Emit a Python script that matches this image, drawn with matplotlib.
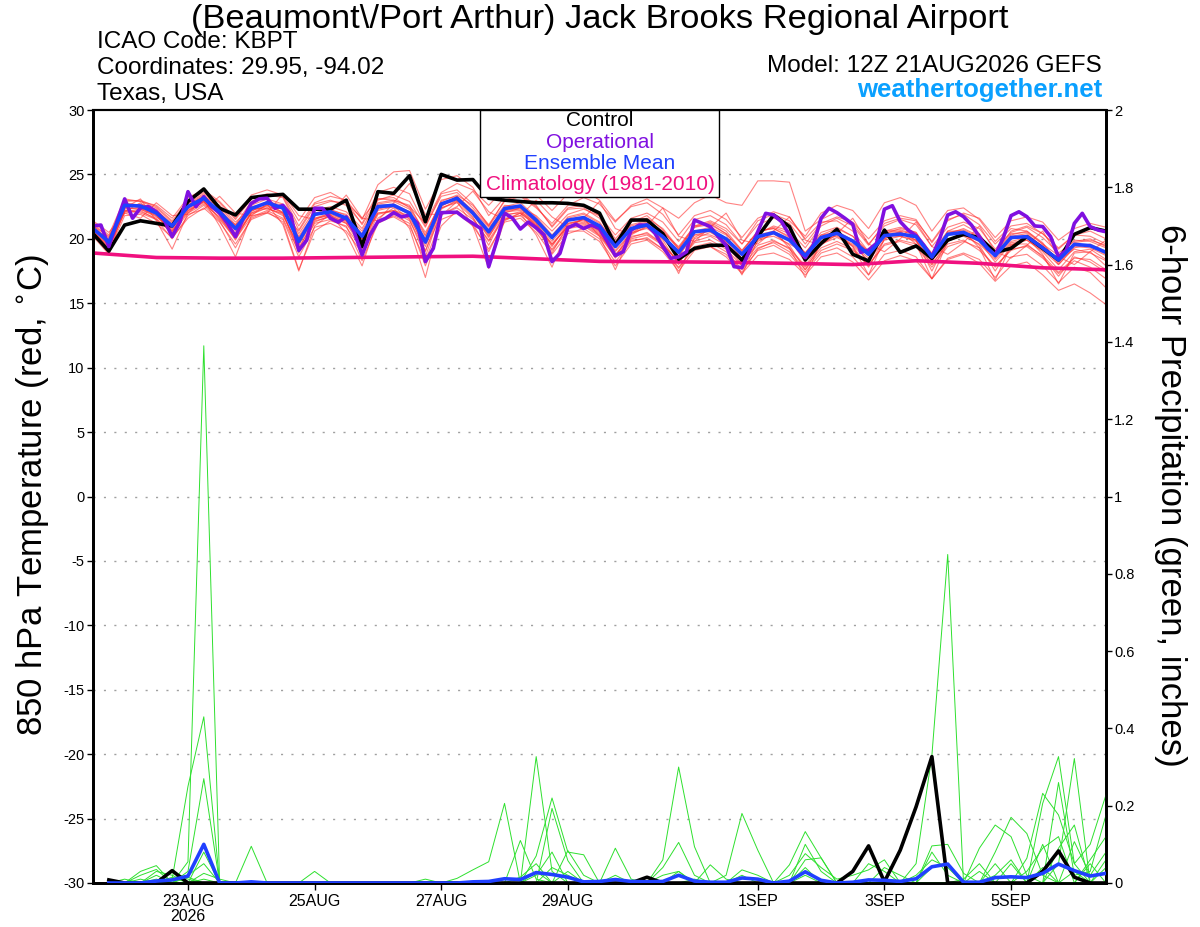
import numpy as np
import matplotlib
matplotlib.use('Agg')
import matplotlib.pyplot as plt
from matplotlib.patches import Rectangle
from matplotlib.ticker import FuncFormatter

plt.rcParams['font.family'] = ['Liberation Sans', 'DejaVu Sans']
plt.rcParams['axes.unicode_minus'] = False

# forecast hours from 12Z 21AUG2026 (6-hourly ensemble, 3-hourly operational)
hours6 = np.arange(65) * 6
hours3 = np.arange(129) * 3

tick_hours = [36, 84, 132, 180, 252, 300, 348]
tick_labels = ['23AUG\n2026', '25AUG', '27AUG', '29AUG', '1SEP', '3SEP', '5SEP']

# 850 hPa temperature (C)
t_mean = [20.8, 19.75, 22.6, 22.55, 22.0, 21.0, 22.5, 23.15, 22.1, 20.8, 22.35, 22.8, 22.4, 19.8, 21.9, 22.1,
          21.6, 20.2, 22.5, 22.6, 22.0, 19.75, 22.7, 23.15, 22.0, 20.55, 22.35, 22.55, 21.45, 20.1, 21.45, 21.65,
          21.0, 19.4, 20.8, 21.07, 20.17, 18.95, 20.55, 20.68, 19.99, 18.8, 20.17, 20.48, 19.9, 18.7, 20.1, 20.43,
          19.83, 18.8, 20.25, 20.37, 20.17, 18.6, 20.35, 20.5, 19.9, 18.7, 20.1, 20.17, 19.3, 18.36, 19.57, 19.47,
          18.95]

t_ctrl = [20.4, 19.05, 21.07, 21.4, 21.2, 21.0, 22.9, 23.87, 22.37, 21.85, 23.2, 23.35, 23.45, 22.3, 22.3, 22.3,
          23.0, 19.4, 23.66, 23.53, 24.9, 21.33, 25.0, 24.56, 24.6, 23.15, 23.0, 22.9, 22.8, 22.8, 22.75, 22.6,
          22.0, 19.5, 21.46, 21.46, 20.4, 18.43, 19.26, 19.5, 19.5, 18.36, 20.17, 21.85, 20.95, 18.36, 19.65, 20.74,
          18.8, 18.28, 20.68, 18.95, 19.45, 18.49, 19.9, 20.35, 20.1, 18.95, 19.26, 20.17, 19.26, 18.36, 20.35, 20.87,
          20.6]

t_oper = [21.0, 21.07, 19.4, 21.3, 23.1, 21.6, 22.4, 22.5, 22.1, 21.46, 20.17, 21.33, 23.66, 22.5, 23.27, 22.5,
          22.0, 21.2, 20.17, 21.6, 22.75, 23.1, 23.15, 22.37, 22.6, 21.85, 19.1, 19.9, 22.37, 22.37, 21.6, 21.3,
          21.7, 20.55, 18.75, 20.3, 21.33, 21.6, 22.03, 21.7, 21.85, 21.2, 18.23, 19.26, 22.03, 22.06, 22.06, 21.6,
          21.2, 20.8, 17.84, 19.78, 22.0, 21.6, 20.76, 21.3, 20.86, 20.3, 18.23, 18.87, 20.86, 21.13, 20.8, 21.07,
          20.8, 19.78, 18.7, 19.0, 20.68, 21.07, 21.07, 20.43, 19.4, 18.49, 18.6, 19.0, 21.46, 21.2, 20.95, 20.17,
          19.5, 17.84, 17.76, 19.13, 20.55, 21.98, 21.85, 21.33, 20.3, 19.26, 18.54, 19.5, 21.6, 22.37, 22.03, 21.6,
          21.13, 18.95, 19.13, 19.65, 22.3, 22.57, 21.33, 20.68, 20.25, 19.5, 18.6, 20.04, 21.85, 22.1, 21.72, 21.07,
          20.17, 19.26, 18.75, 20.04, 21.8, 22.1, 21.72, 21.0, 20.95, 20.17, 18.6, 19.13, 21.2, 21.98, 20.95, 20.68,
          20.55]

# climatology (1981-2010), daily points
clim_hours = [0, 24, 48, 72, 96, 120, 144, 168, 192, 216, 240, 264, 288, 312, 336, 360, 384]
t_clim = [18.9, 18.55, 18.5, 18.5, 18.55, 18.6, 18.65, 18.45, 18.25, 18.22, 18.18, 18.1, 18.0, 18.3, 18.1, 17.75, 17.6]

# ensemble members
t_members = [
    [21.2, 20.1, 22.9, 23.0, 22.5, 21.4, 23.0, 23.6, 22.8, 21.5, 23.1, 23.5, 23.3, 21.0, 22.8, 23.3,
     23.0, 21.5, 24.2, 25.2, 25.3, 22.3, 24.6, 24.9, 24.0, 21.8, 23.2, 23.5, 22.6, 20.9, 22.3, 22.4,
     21.6, 19.8, 21.3, 21.8, 20.7, 19.2, 20.9, 21.3, 20.6, 19.1, 20.5, 20.9, 20.4, 18.9, 20.3, 20.8,
     20.2, 18.9, 20.6, 20.9, 20.5, 18.7, 20.4, 20.8, 20.2, 18.6, 19.8, 20.1, 19.5, 18.0, 19.3, 19.6, 19.0],
    [20.5, 19.5, 22.3, 22.4, 21.8, 20.6, 22.1, 22.9, 21.9, 20.3, 22.0, 22.6, 22.3, 19.6, 21.8, 22.2,
     21.9, 20.6, 22.8, 23.0, 22.6, 20.3, 22.9, 23.4, 22.6, 21.1, 22.9, 23.3, 22.4, 21.2, 22.6, 23.2,
     22.7, 21.3, 22.6, 23.1, 22.4, 21.6, 22.8, 23.4, 22.8, 22.6, 24.5, 24.5, 24.4, 20.6, 21.5, 22.1,
     21.2, 19.6, 21.0, 21.5, 21.1, 19.4, 20.9, 21.3, 20.8, 19.2, 20.5, 20.9, 20.1, 18.9, 19.8, 20.0, 19.4],
    [20.3, 19.0, 21.8, 21.9, 21.2, 20.1, 21.6, 22.4, 21.3, 19.6, 21.5, 22.0, 21.5, 18.6, 20.9, 21.2,
     20.6, 18.9, 21.4, 21.7, 21.0, 18.3, 21.5, 22.0, 21.0, 19.2, 21.3, 21.6, 20.5, 18.8, 20.4, 20.8,
     20.0, 18.2, 19.8, 20.1, 19.2, 17.7, 19.4, 19.7, 19.0, 17.6, 19.1, 19.5, 18.8, 17.4, 18.9, 19.3,
     18.6, 17.2, 18.8, 19.1, 18.6, 16.9, 18.4, 18.8, 18.1, 16.7, 17.9, 18.2, 17.2, 16.0, 16.5, 15.8, 14.9],
    [20.9, 19.9, 22.7, 22.5, 22.2, 21.2, 22.4, 23.0, 22.3, 21.0, 22.6, 23.1, 22.7, 20.4, 22.2, 22.5,
     22.1, 20.8, 23.0, 23.4, 22.9, 20.9, 23.5, 23.8, 22.7, 21.0, 22.6, 22.5, 21.2, 19.5, 21.0, 21.3,
     20.5, 18.7, 20.2, 20.4, 19.6, 18.1, 20.0, 20.5, 19.8, 18.5, 20.4, 21.0, 20.6, 19.3, 21.0, 21.6,
     21.0, 19.5, 21.2, 21.6, 21.4, 19.8, 21.5, 21.9, 21.1, 19.6, 20.8, 20.6, 19.6, 18.3, 19.2, 18.9, 18.3],
    [20.6, 19.3, 22.1, 22.8, 21.9, 20.3, 22.7, 23.4, 21.8, 19.9, 22.1, 22.9, 22.0, 18.9, 21.3, 21.8,
     21.2, 19.3, 22.2, 22.5, 21.5, 18.6, 22.3, 23.0, 21.7, 19.5, 22.0, 22.4, 21.0, 18.9, 21.1, 21.5,
     20.6, 18.6, 20.6, 21.0, 19.9, 18.0, 20.3, 20.6, 19.7, 17.9, 19.8, 20.4, 19.5, 17.6, 19.6, 20.3,
     19.4, 17.8, 20.0, 20.5, 19.9, 17.5, 19.9, 20.4, 19.5, 17.5, 19.5, 19.9, 19.0, 17.6, 19.0, 19.2, 18.4],
    [21.0, 20.2, 22.4, 22.3, 21.7, 20.9, 22.2, 22.8, 22.0, 21.1, 22.2, 22.5, 22.1, 20.1, 21.6, 21.8,
     21.3, 20.0, 22.0, 22.2, 21.8, 19.9, 22.4, 22.9, 22.2, 20.9, 22.2, 22.4, 21.8, 20.6, 21.9, 22.3,
     21.8, 20.3, 21.6, 22.0, 21.3, 19.8, 21.5, 21.8, 21.1, 19.6, 21.1, 21.6, 21.2, 19.6, 21.2, 21.7,
     21.3, 20.0, 21.4, 21.8, 21.5, 19.7, 21.4, 22.0, 21.6, 20.1, 21.4, 21.7, 21.3, 19.9, 20.8, 21.2, 20.9],
    [20.7, 19.6, 22.5, 22.7, 22.3, 21.0, 22.3, 22.9, 21.5, 20.0, 21.7, 22.2, 21.6, 19.0, 21.2, 21.5,
     20.9, 19.2, 21.9, 22.2, 21.6, 19.4, 22.4, 22.8, 21.6, 19.8, 21.6, 21.8, 20.7, 19.2, 20.8, 21.0,
     20.2, 18.6, 20.0, 20.3, 19.5, 18.3, 19.8, 20.2, 19.5, 18.2, 19.5, 19.9, 19.2, 17.8, 19.3, 19.8,
     19.2, 17.9, 19.6, 19.9, 19.6, 18.0, 19.6, 19.9, 19.1, 17.9, 19.1, 19.5, 18.7, 17.4, 18.5, 18.4, 17.6],
    [21.1, 19.8, 22.8, 22.6, 22.1, 20.8, 22.8, 23.5, 22.5, 21.1, 22.9, 23.4, 23.2, 20.7, 22.7, 23.0,
     22.6, 21.2, 23.6, 24.0, 23.5, 21.0, 23.3, 23.6, 22.4, 21.0, 23.0, 23.4, 22.5, 21.0, 22.4, 22.6,
     21.8, 20.0, 21.4, 21.6, 20.8, 19.3, 21.0, 21.2, 20.4, 19.0, 20.6, 20.8, 20.1, 18.6, 20.0, 20.2,
     19.6, 18.5, 20.1, 20.2, 19.8, 18.3, 20.0, 20.2, 19.6, 18.4, 19.7, 19.9, 19.1, 18.0, 19.4, 19.3, 18.7],
    [20.4, 19.4, 22.0, 22.2, 21.5, 20.0, 21.8, 22.6, 21.4, 19.3, 21.6, 22.1, 21.3, 17.6, 20.6, 21.4,
     21.0, 18.3, 21.2, 21.8, 21.2, 17.9, 21.0, 22.2, 21.2, 19.0, 21.5, 22.0, 21.1, 19.4, 21.2, 21.4,
     20.6, 19.0, 20.4, 20.9, 20.2, 18.6, 20.6, 20.9, 20.3, 18.4, 20.3, 20.6, 20.0, 18.2, 20.2, 20.6,
     19.9, 18.1, 20.4, 20.8, 20.5, 18.4, 20.6, 21.1, 20.4, 18.5, 20.3, 20.6, 19.7, 18.1, 19.7, 19.9, 19.5],
    [20.8, 20.0, 23.0, 22.9, 22.4, 21.3, 22.6, 23.3, 22.4, 20.6, 22.5, 22.7, 22.5, 20.0, 22.0, 22.3,
     21.8, 20.4, 22.7, 22.9, 22.3, 20.2, 23.0, 23.3, 22.2, 20.4, 22.2, 22.3, 21.3, 19.8, 21.2, 21.5,
     20.9, 19.1, 20.5, 20.8, 20.0, 18.7, 20.3, 20.3, 19.8, 18.8, 20.0, 20.2, 19.6, 18.9, 20.3, 20.5,
     19.9, 19.0, 20.5, 20.6, 20.3, 18.9, 20.6, 20.6, 20.0, 18.9, 20.4, 20.5, 19.6, 18.7, 19.9, 19.8, 19.3],
    [21.3, 20.3, 23.1, 22.9, 22.6, 21.6, 23.2, 23.8, 22.9, 21.6, 23.4, 23.8, 23.4, 21.4, 23.2, 23.6,
     22.9, 21.1, 23.1, 23.2, 22.4, 20.5, 22.8, 23.1, 21.9, 20.2, 21.9, 22.0, 21.0, 19.6, 20.9, 21.1,
     20.3, 18.8, 20.1, 20.5, 19.6, 18.2, 19.7, 19.9, 19.2, 17.9, 19.3, 19.7, 19.0, 17.6, 19.1, 19.6,
     19.1, 18.0, 19.5, 19.8, 19.4, 17.8, 19.4, 19.8, 19.3, 17.8, 19.2, 19.4, 18.5, 17.3, 18.3, 17.8, 16.9],
    [20.5, 19.2, 22.2, 22.1, 21.6, 20.4, 22.0, 22.7, 21.7, 20.2, 21.9, 22.4, 21.9, 19.3, 21.4, 21.7,
     21.2, 19.7, 22.3, 22.6, 22.1, 19.6, 22.6, 23.1, 21.9, 20.1, 22.3, 22.6, 21.6, 20.2, 21.7, 22.0,
     21.3, 19.6, 21.1, 21.4, 20.6, 19.2, 20.9, 21.1, 20.4, 19.1, 20.6, 20.8, 20.2, 18.9, 20.5, 20.9,
     20.2, 19.0, 20.6, 20.7, 20.3, 18.8, 20.5, 20.7, 20.1, 18.6, 20.2, 20.4, 19.4, 18.4, 19.6, 19.4, 18.8],
    [20.9, 19.7, 22.6, 22.4, 21.9, 21.1, 22.6, 23.1, 22.2, 20.9, 22.3, 22.9, 22.6, 20.2, 22.0, 22.0,
     21.4, 20.0, 22.6, 22.7, 22.1, 20.0, 22.6, 23.0, 22.1, 20.7, 22.5, 22.8, 21.7, 20.3, 21.6, 21.9,
     21.2, 19.7, 21.0, 21.3, 20.5, 19.4, 21.0, 21.4, 20.8, 19.6, 21.4, 21.9, 21.4, 20.2, 22.0, 22.6,
     22.2, 20.8, 22.8, 23.2, 22.6, 20.6, 22.2, 22.4, 21.5, 19.8, 21.0, 21.2, 20.4, 19.2, 20.3, 20.6, 20.0],
    [20.6, 19.5, 22.4, 22.6, 22.0, 20.7, 22.4, 23.2, 21.9, 20.4, 22.2, 22.6, 22.0, 19.2, 21.5, 21.9,
     21.4, 19.6, 22.4, 22.5, 21.9, 19.0, 22.5, 23.3, 22.1, 20.3, 22.1, 22.2, 20.9, 19.1, 20.6, 20.6,
     19.8, 17.9, 19.6, 19.9, 19.0, 17.5, 19.1, 19.4, 18.8, 17.4, 19.2, 19.8, 19.3, 17.9, 19.6, 20.1,
     19.5, 18.3, 19.9, 20.2, 19.9, 18.0, 19.8, 20.3, 19.8, 18.2, 19.6, 19.6, 18.6, 17.1, 18.6, 18.2, 17.4],
    [21.4, 20.5, 22.0, 21.6, 22.8, 21.8, 21.9, 22.3, 23.3, 22.0, 21.8, 22.0, 23.5, 21.8, 21.5, 22.0,
     23.4, 21.6, 21.4, 22.8, 24.3, 21.9, 21.9, 22.5, 23.7, 22.1, 21.5, 21.8, 23.0, 21.7, 20.9, 21.6,
     22.9, 20.8, 20.3, 21.0, 22.4, 20.2, 19.8, 20.9, 22.0, 19.9, 19.6, 20.6, 21.7, 19.9, 19.5, 20.4,
     21.6, 19.6, 19.0, 20.0, 21.3, 19.4, 18.8, 19.7, 21.0, 19.0, 18.5, 19.5, 20.6, 18.6, 18.0, 19.0, 19.9],
    [20.2, 18.8, 22.4, 23.1, 21.4, 19.2, 22.0, 23.0, 21.0, 18.6, 21.8, 22.7, 21.1, 17.5, 21.0, 21.9,
     20.4, 17.9, 21.6, 22.4, 20.8, 17.0, 21.8, 22.9, 21.0, 17.7, 21.4, 22.0, 20.3, 17.8, 20.8, 21.6,
     20.2, 17.6, 20.4, 21.2, 19.7, 17.3, 20.1, 20.8, 19.4, 17.2, 19.9, 20.6, 19.3, 17.0, 19.8, 20.6,
     19.4, 17.2, 20.0, 20.6, 19.6, 16.9, 19.8, 20.6, 19.3, 16.8, 19.5, 20.1, 18.8, 16.5, 18.9, 19.0, 17.9],
    [20.7, 19.9, 22.2, 22.0, 21.5, 20.5, 22.6, 23.3, 22.6, 21.3, 22.4, 22.3, 22.0, 20.6, 22.5, 22.9,
     22.8, 21.6, 23.1, 23.0, 22.5, 21.2, 23.6, 24.3, 23.8, 22.6, 23.9, 24.1, 23.4, 22.2, 23.5, 23.8,
     23.0, 21.4, 22.5, 22.8, 21.9, 20.3, 21.8, 22.2, 21.5, 20.1, 21.6, 22.1, 21.7, 20.0, 21.3, 21.4,
     20.6, 19.0, 20.4, 20.5, 19.9, 18.3, 19.9, 20.3, 19.9, 18.9, 20.6, 21.0, 20.4, 19.3, 20.3, 20.2, 19.6],
    [20.9, 19.6, 22.1, 22.3, 21.8, 20.6, 22.2, 22.9, 21.6, 20.1, 22.0, 22.4, 21.8, 19.5, 21.6, 22.0,
     21.7, 19.8, 22.0, 22.1, 21.4, 19.1, 21.9, 22.4, 21.5, 19.9, 21.8, 22.1, 21.2, 19.6, 21.0, 21.2,
     20.4, 18.5, 19.9, 20.0, 19.2, 17.8, 19.3, 19.4, 18.6, 17.3, 18.7, 18.9, 18.4, 17.2, 18.6, 18.9,
     18.2, 16.8, 18.3, 18.7, 18.3, 16.9, 18.5, 18.9, 18.4, 17.0, 18.6, 18.8, 17.9, 16.6, 17.8, 17.4, 16.2],
]

# 6-hour precipitation (inches), valid hours 6..384; members given as {step: amount}, other steps dry
p_mean = [0.0, 0.0, 0.0, 0.005, 0.008, 0.018, 0.1, 0.0, 0.0, 0.003, 0.0, 0.0, 0.0, 0.0, 0.0, 0.0,
          0.0, 0.0, 0.0, 0.0, 0.0, 0.0, 0.0, 0.003, 0.004, 0.011, 0.009, 0.027, 0.022, 0.015, 0.003, 0.004,
          0.009, 0.004, 0.003, 0.004, 0.02, 0.005, 0.002, 0.002, 0.013, 0.01, 0.0, 0.005, 0.029, 0.007, 0.0,
          0.002, 0.008, 0.007, 0.004, 0.011, 0.042, 0.049, 0.002, 0.002, 0.014, 0.016, 0.014, 0.025, 0.049,
          0.032, 0.018, 0.025]
p_ctrl = [0.008, 0.0, 0.0, 0.0, 0.032, 0.0, 0.0, 0.0, 0.0, 0.0, 0.0, 0.0, 0.0, 0.0, 0.0, 0.0,
          0.0, 0.0, 0.0, 0.0, 0.0, 0.0, 0.0, 0.0, 0.0, 0.0, 0.0, 0.0, 0.0, 0.0, 0.0, 0.0,
          0.0, 0.0, 0.015, 0.0, 0.0, 0.0, 0.0, 0.0, 0.0, 0.0, 0.0, 0.0, 0.0, 0.0, 0.0, 0.03,
          0.096, 0.003, 0.085, 0.197, 0.327, 0.0, 0.0, 0.0, 0.0, 0.0, 0.0, 0.03, 0.083, 0.015, 0.0, 0.0]

p_members = [
    {6: 0.055, 7: 1.39, 28: 0.327, 29: 0.03, 45: 0.06, 46: 0.065, 61: 0.05, 62: 0.322, 64: 0.06},
    {5: 0.01, 6: 0.25, 7: 0.43, 23: 0.012, 24: 0.034, 25: 0.055, 26: 0.206, 41: 0.034, 42: 0.02,
     60: 0.206, 61: 0.327, 62: 0.05, 63: 0.1, 64: 0.228},
    {6: 0.03, 7: 0.27, 29: 0.193, 30: 0.058, 37: 0.03, 39: 0.047, 40: 0.01, 52: 0.05, 53: 0.33,
     54: 0.85, 57: 0.05},
    {3: 0.03, 4: 0.045, 7: 0.08, 27: 0.11, 28: 0.01, 36: 0.06, 37: 0.30, 38: 0.094, 56: 0.09,
     57: 0.15, 58: 0.12, 59: 0.02},
    {4: 0.03, 5: 0.02, 7: 0.025, 8: 0.01, 28: 0.07, 29: 0.22, 30: 0.08, 31: 0.073, 44: 0.047,
     45: 0.133, 46: 0.065, 61: 0.26, 62: 0.02, 63: 0.03, 64: 0.176},
    {3: 0.02, 4: 0.035, 10: 0.095, 33: 0.09, 34: 0.01, 53: 0.096, 54: 0.1, 55: 0.025, 59: 0.064,
     60: 0.232, 61: 0.176, 62: 0.05},
    {14: 0.03, 36: 0.04, 37: 0.105, 38: 0.02, 49: 0.05, 50: 0.03, 57: 0.08, 58: 0.17, 59: 0.128, 60: 0.02},
    {2: 0.01, 4: 0.02, 6: 0.015, 21: 0.01, 28: 0.03, 30: 0.084, 31: 0.02, 40: 0.02, 41: 0.18, 42: 0.085,
     62: 0.107, 63: 0.02, 64: 0.08},
    {5: 0.015, 33: 0.02, 45: 0.1, 46: 0.03, 53: 0.08, 54: 0.02, 56: 0.03, 63: 0.05},
    {4: 0.01, 44: 0.02, 45: 0.076, 46: 0.04, 47: 0.01, 48: 0.02, 49: 0.034, 50: 0.06, 58: 0.05, 60: 0.1},
    {6: 0.02, 7: 0.05, 29: 0.04, 30: 0.02, 52: 0.02, 53: 0.06, 54: 0.04, 61: 0.09, 62: 0.15, 64: 0.04},
    {3: 0.01, 28: 0.02, 29: 0.08, 36: 0.02, 37: 0.03, 45: 0.04, 50: 0.04, 51: 0.02, 59: 0.03, 60: 0.09, 61: 0.12},
    {7: 0.01, 27: 0.015, 28: 0.05, 33: 0.01, 41: 0.02, 53: 0.04, 54: 0.05, 57: 0.02, 58: 0.06, 63: 0.06, 64: 0.12},
    {5: 0.03, 6: 0.01, 30: 0.03, 38: 0.01, 45: 0.02, 55: 0.01, 56: 0.05, 60: 0.04, 62: 0.03},
]

for m in t_members + [t_mean, t_ctrl]:
    assert len(m) == 65, len(m)
assert len(t_oper) == 129
assert len(p_mean) == 64 and len(p_ctrl) == 64

RED = '#ff3030'
GREEN = '#2ee02e'
PURPLE = '#8010e0'
BLUE = '#2040ff'
PINK = '#f0107f'

fig = plt.figure(figsize=(12, 9.27), dpi=100)
ax = fig.add_axes([93 / 1200, 1 - 883 / 927, 1013 / 1200, 773 / 927])
ax2 = ax.twinx()

# temperature
for m in t_members:
    ax.plot(hours6, m, color=RED, lw=0.8, alpha=0.6, zorder=2)
ax.plot(clim_hours, t_clim, color=PINK, lw=2.6, zorder=3)
ax.plot(hours6, t_ctrl, color='black', lw=2.6, zorder=4)
ax.plot(hours3, t_oper, color=PURPLE, lw=2.6, zorder=5)
ax.plot(hours6, t_mean, color=BLUE, lw=2.6, zorder=6)

# precipitation
p_hours = hours6[1:]
for d in p_members:
    p = np.zeros(64)
    for k, v in d.items():
        p[k - 1] = v
    ax2.plot(p_hours, p, color=GREEN, lw=0.7, zorder=2)
ax2.plot(p_hours, p_ctrl, color='black', lw=2.6, zorder=4)
ax2.plot(p_hours, p_mean, color=BLUE, lw=2.6, zorder=5)

ax.set_xlim(0, 384)
ax.set_ylim(-30, 30)
ax2.set_ylim(0, 2)
ax.set_yticks(np.arange(-30, 31, 5))
ax2.set_yticks(np.arange(0, 2.01, 0.2))
ax2.yaxis.set_major_formatter(FuncFormatter(lambda v, p: '%g' % round(v, 1)))
ax.set_xticks(tick_hours)
ax.set_xticklabels(tick_labels, fontsize=11.5, linespacing=1.0)

for g in range(-25, 30, 5):
    ax.axhline(g, color='#a0a0a0', lw=1.0, ls=(0, (1.5, 6)), zorder=1)

for a in (ax, ax2):
    a.tick_params(axis='y', labelsize=10.5, length=4, width=1, pad=2)
    for s in a.spines.values():
        s.set_linewidth(2.0)
    a.spines['top'].set_linewidth(1.5)
ax.tick_params(axis='x', length=5, width=1, pad=3)

# legend box
ax2.add_patch(Rectangle((0.382, 0.8875), 0.236, 0.1125, transform=ax2.transAxes,
                        facecolor='white', edgecolor='black', lw=1.0, zorder=10))
leg_items = [('Control', 'black'), ('Operational', PURPLE),
             ('Ensemble Mean', BLUE), ('Climatology (1981-2010)', PINK)]
for n, (txt, col) in enumerate(leg_items):
    ax2.text(0.5005, 0.9858 - n * 0.0275, txt, color=col, fontsize=15, ha='center', va='center',
             transform=ax2.transAxes, zorder=11)

# titles and labels
fig.text(0.5, 1 - 28 / 927, '(Beaumont\\/Port Arthur) Jack Brooks Regional Airport',
         fontsize=24.8, ha='center', va='baseline')
fig.text(97 / 1200, 1 - 48 / 927, 'ICAO Code: KBPT', fontsize=17.5, va='baseline')
fig.text(97 / 1200, 1 - 74 / 927, 'Coordinates: 29.95, -94.02', fontsize=17.5, va='baseline')
fig.text(97 / 1200, 1 - 100 / 927, 'Texas, USA', fontsize=17.5, va='baseline')
fig.text(1102 / 1200, 1 - 72 / 927, 'Model: 12Z 21AUG2026 GEFS', fontsize=17.5, ha='right', va='baseline')
fig.text(1102 / 1200, 1 - 97 / 927, 'weathertogether.net', fontsize=18.5, fontweight='bold',
         color='#0aa0ff', ha='right', va='baseline')
fig.text(33 / 1200, 1 - 495 / 927, '850 hPa Temperature (red, $^{\\circ}$C)', fontsize=25,
         rotation=90, ha='center', va='center')
fig.text(1170 / 1200, 1 - 495 / 927, '6-hour Precipitation (green, inches)', fontsize=25,
         rotation=270, ha='center', va='center')

fig.savefig('out.png', dpi=100)
